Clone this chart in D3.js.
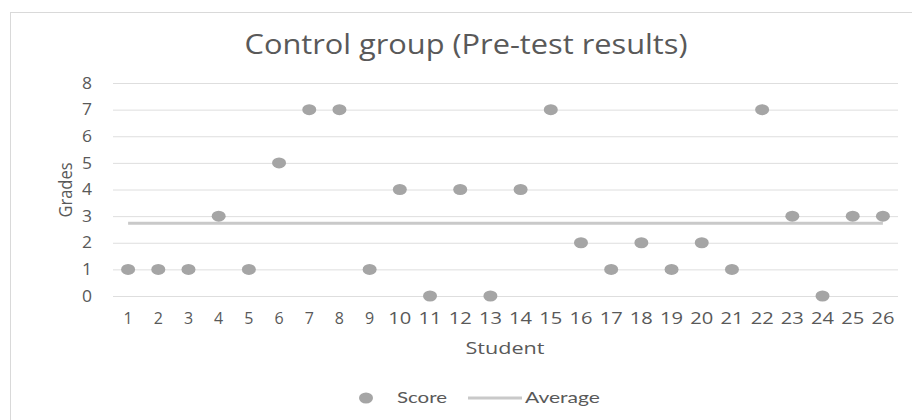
<!DOCTYPE html>
<html>
<head>
<meta charset="utf-8">
<script src="https://cdn.jsdelivr.net/npm/d3@7"></script>
<style>
  body { margin: 0; background: #fff; }
  text { font-family: "Open Sans", sans-serif; fill: #595959; }
</style>
</head>
<body>
<script>
// data
var students = ["1","2","3","4","5","6","7","8","9","10","11","12","13","14","15","16","17","18","19","20","21","22","23","24","25","26"];
var scores = [1,1,1,3,1,5,7,7,1,4,0,4,0,4,7,2,1,2,1,2,1,7,3,0,3,3];
var average = 2.73;
var yTicks = [0,1,2,3,4,5,6,7,8];

var width = 912, height = 420;
var plotLeft = 113, plotRight = 898, plotTop = 83, plotBottom = 296;

var svg = d3.select('body').append('svg')
    .attr('width', width)
    .attr('height', height);

// chart frame
svg.append('rect')
    .attr('x', 10.5).attr('y', 12.5)
    .attr('width', width).attr('height', height)
    .attr('fill', '#fff')
    .attr('stroke', '#d9d9d9');

var x = d3.scaleBand()
    .domain(students)
    .range([plotLeft, plotRight]);

var y = d3.scaleLinear()
    .domain([0, 8])
    .range([plotBottom, plotTop]);

// gridlines + y labels
var yAxis = d3.axisLeft(y)
    .tickValues(yTicks)
    .tickSize(-(plotRight - plotLeft))
    .tickPadding(21);

var gy = svg.append('g')
    .attr('transform', 'translate(' + plotLeft + ',0)')
    .call(yAxis);
gy.select('.domain').remove();
gy.selectAll('.tick line').attr('stroke', '#dedede');
gy.selectAll('.tick text')
    .attr('fill', '#595959')
    .style('font-size', '16px')
    .style('font-family', '"Open Sans", sans-serif')
    .attr('textLength', 10)
    .attr('lengthAdjust', 'spacingAndGlyphs');

var xAxis = d3.axisBottom(x).tickSize(0).tickPadding(17);
var gx = svg.append('g')
    .attr('transform', 'translate(0,' + plotBottom + ')')
    .call(xAxis);
gx.select('.domain').remove();
gx.selectAll('.tick text')
    .attr('fill', '#595959')
    .style('font-size', '16px')
    .style('font-family', '"Open Sans", sans-serif')
    .attr('textLength', function(d){ return d.length > 1 ? 23 : null; })
    .attr('lengthAdjust', 'spacingAndGlyphs');

// average line
var avgLine = d3.line()
    .x(function(d){ return x(d) + x.bandwidth() / 2; })
    .y(function(){ return y(average); });
svg.append('path')
    .attr('d', avgLine([students[0], students[students.length - 1]]))
    .attr('fill', 'none')
    .attr('stroke', '#c9c9c9')
    .attr('stroke-width', 3);

// score dots
svg.selectAll('.dot')
    .data(scores)
    .enter()
    .append('ellipse')
      .attr('class', 'dot')
      .attr('cx', function(d, i){ return x(students[i]) + x.bandwidth() / 2; })
      .attr('cy', function(d){ return y(d); })
      .attr('rx', 7)
      .attr('ry', 5.5)
      .attr('fill', '#a5a5a5');

// titles
svg.append('text')
    .attr('x', 466).attr('y', 54)
    .attr('text-anchor', 'middle')
    .attr('textLength', 443)
    .attr('lengthAdjust', 'spacingAndGlyphs')
    .style('font-size', '27px')
    .text('Control group (Pre-test results)');

svg.append('text')
    .attr('x', 505).attr('y', 354)
    .attr('text-anchor', 'middle')
    .attr('textLength', 79)
    .attr('lengthAdjust', 'spacingAndGlyphs')
    .style('font-size', '17px')
    .text('Student');

svg.append('text')
    .attr('transform', 'translate(72,190) rotate(-90)')
    .attr('text-anchor', 'middle')
    .attr('textLength', 55)
    .attr('lengthAdjust', 'spacingAndGlyphs')
    .style('font-size', '19px')
    .text('Grades');

// legend
var legend = svg.append('g');
legend.append('ellipse')
    .attr('cx', 366).attr('cy', 398)
    .attr('rx', 7).attr('ry', 5.5)
    .attr('fill', '#a5a5a5');
legend.append('text')
    .attr('x', 397).attr('y', 403)
    .attr('textLength', 50)
    .attr('lengthAdjust', 'spacingAndGlyphs')
    .style('font-family', 'Lato, sans-serif')
    .style('font-size', '15px')
    .text('Score');
legend.append('line')
    .attr('x1', 468).attr('x2', 522)
    .attr('y1', 398).attr('y2', 398)
    .attr('stroke', '#c9c9c9')
    .attr('stroke-width', 3);
legend.append('text')
    .attr('x', 525).attr('y', 403)
    .attr('textLength', 75)
    .attr('lengthAdjust', 'spacingAndGlyphs')
    .style('font-family', 'Lato, sans-serif')
    .style('font-size', '15px')
    .text('Average');
</script>
</body>
</html>
